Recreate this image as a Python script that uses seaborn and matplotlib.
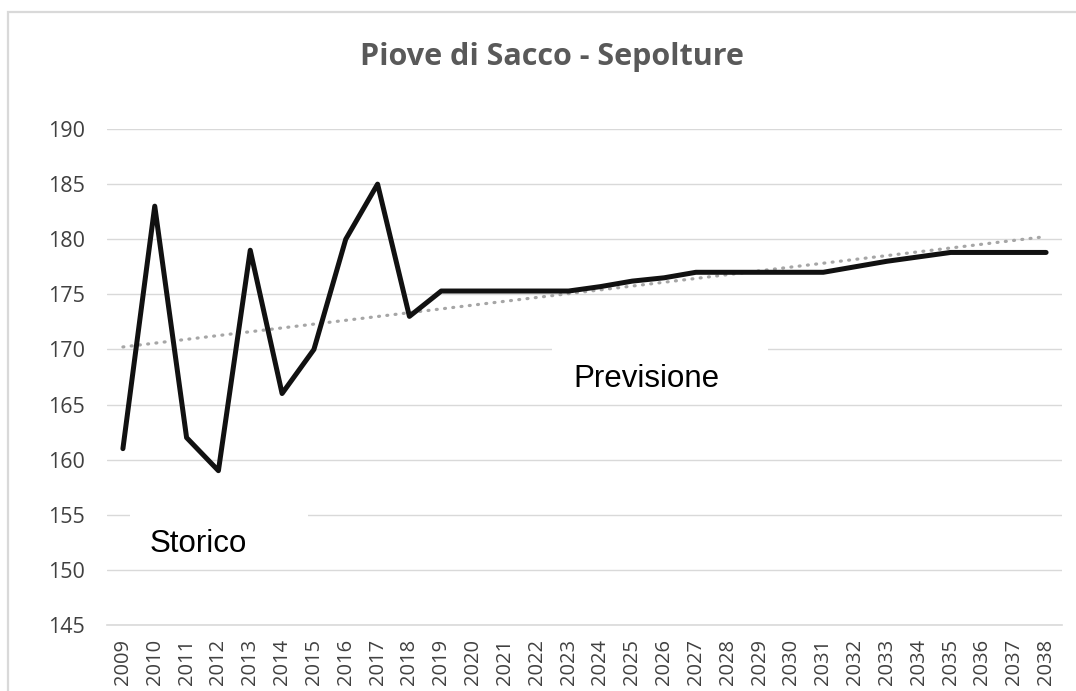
import numpy as np
import pandas as pd
import matplotlib
matplotlib.use("Agg")
import matplotlib.pyplot as plt
import seaborn as sns

years = list(range(2009, 2039))
sepolture = [161, 183, 162, 159, 179, 166, 170, 180, 185, 173,
             175.3, 175.3, 175.3, 175.3, 175.3, 175.7, 176.2, 176.5, 177.0,
             177.0, 177.0, 177.0, 177.0, 177.5, 178.0, 178.4, 178.8,
             178.8, 178.8, 178.8]
title = "Piove di Sacco - Sepolture"
label_storico = "Storico"
label_previsione = "Previsione"
yticks = [145, 150, 155, 160, 165, 170, 175, 180, 185, 190]

df = pd.DataFrame({"pos": np.arange(len(years)), "anno": years, "val": sepolture})
coef = np.polyfit(df["pos"], df["val"], 1)
df["trend"] = np.polyval(coef, df["pos"])

sns.set_theme(style="white")
plt.rcParams['font.family'] = ['Open Sans', 'DejaVu Sans']

W, H = 1076, 691
fig = plt.figure(figsize=(W / 100, H / 100), dpi=100)


def fx(px):
    return px / W


def fy(py):
    return 1 - py / H


# outer chart frame (left and top edges visible)
fig.patches.append(plt.Rectangle((fx(8), -0.05), fx(1090 - 8), fy(12) + 0.05,
                                 transform=fig.transFigure, fill=False,
                                 edgecolor="#d9d9d9", linewidth=1.6))
ax = fig.add_axes([fx(107), fy(625), fx(1062 - 107), (625 - 129) / H])

for y in yticks:
    ax.axhline(y, color="#d9d9d9", linewidth=1.0, zorder=0)

sns.lineplot(data=df, x="pos", y="trend", ax=ax, color="#a6a6a6",
             linewidth=2.3, linestyle=(0, (0.3, 2.3)), dash_capstyle="round", zorder=2)
sns.lineplot(data=df, x="pos", y="val", ax=ax, color="#111111",
             linewidth=3.6, zorder=3)

ax.set_xlim(-0.5, len(years) - 0.5)
ax.set_ylim(145, 190)
ax.set_yticks(yticks)
ax.set_yticklabels([str(v) for v in yticks], fontsize=15.5, color="#404040")
ax.set_xticks(df["pos"])
ax.set_xticklabels([str(y) for y in years], rotation=90, fontsize=14.5, color="#404040")
ax.tick_params(axis="y", length=0, pad=16)
ax.tick_params(axis="x", length=0, pad=10)
ax.set_xlabel("")
ax.set_ylabel("")
for s in ["top", "right", "left"]:
    ax.spines[s].set_visible(False)
ax.spines["bottom"].set_color("#d9d9d9")
ax.spines["bottom"].set_linewidth(1.2)

# white label boxes covering gridlines
for (x0, y0, x1, y1) in [(130, 503, 308, 563), (552, 338, 768, 398)]:
    ax.add_patch(plt.Rectangle((fx(x0), fy(y1)), fx(x1 - x0), (y1 - y0) / H,
                               transform=fig.transFigure, facecolor="white",
                               edgecolor="none", zorder=3.5))

fig.text(fx(198.5), fy(551.7), label_storico, fontsize=22.5,
         family=['Liberation Sans'], color="black", ha="center", va="baseline",
         zorder=4)
fig.text(fx(646), fy(387), label_previsione, fontsize=22.5,
         family=['Liberation Sans'], color="black", ha="center", va="baseline",
         zorder=4)

fig.text(fx(552), fy(65), title, ha="center", va="baseline", fontsize=22,
         fontweight="bold", color="#595959")

fig.savefig("out.png", dpi=100, facecolor="white")
